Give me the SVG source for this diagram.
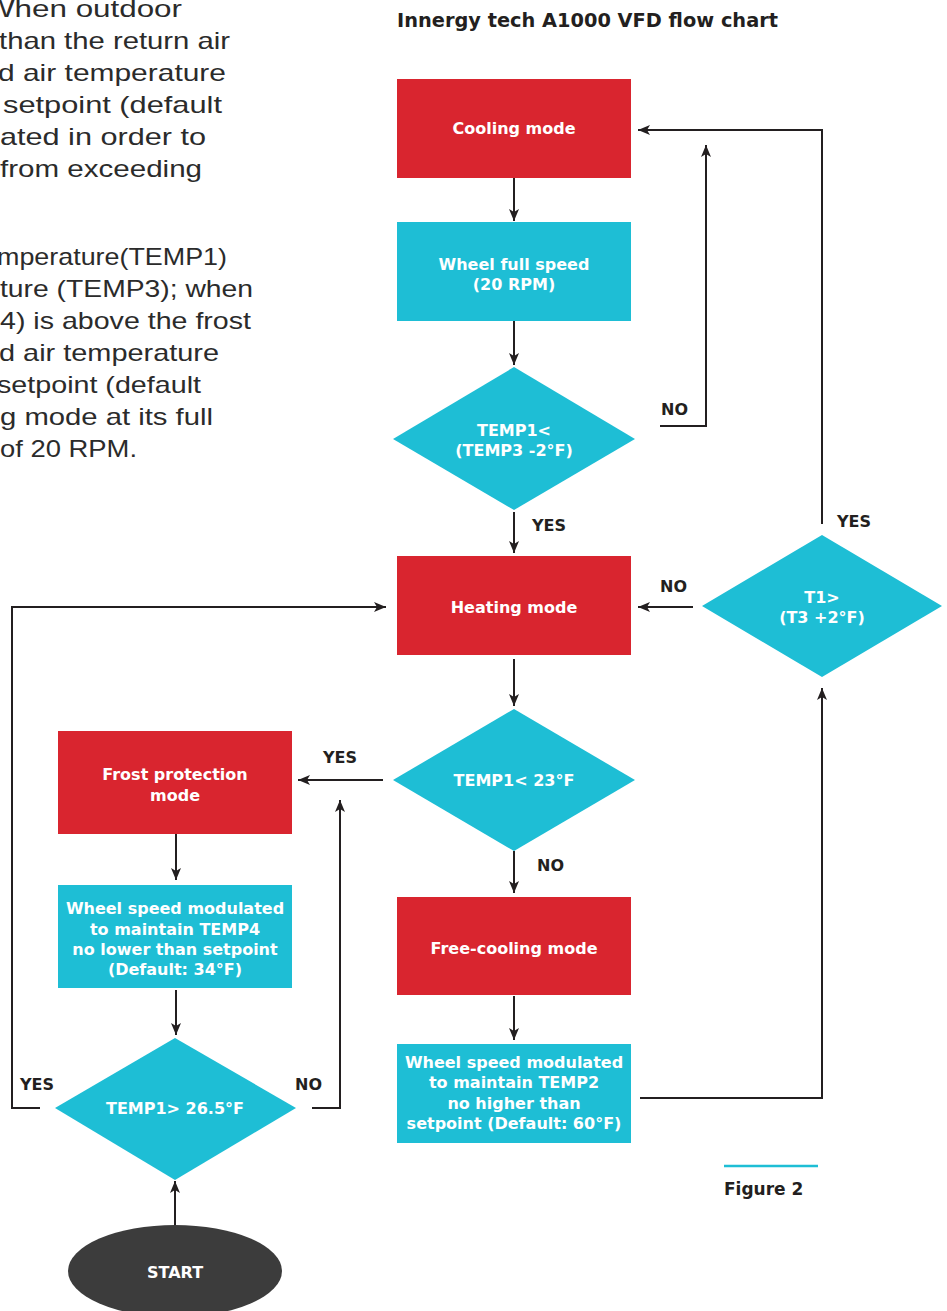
<svg xmlns="http://www.w3.org/2000/svg" width="947" height="1311" viewBox="0 0 947 1311">
<style>
.body{font-family:"Liberation Sans",Arial,sans-serif;font-size:24px;fill:#2b2b2b}
.lbl{font-family:"DejaVu Sans",Verdana,sans-serif;font-size:16px;font-weight:bold;fill:#ffffff;text-anchor:middle}
.yn{font-family:"DejaVu Sans",Verdana,sans-serif;font-size:16px;font-weight:bold;fill:#231f20}
.red{fill:#d9252f}
.cyan{fill:#1ebed5}
.conn path{fill:none;stroke:#231f20;stroke-width:2}
</style>
<defs>
<marker id="ah" viewBox="0 0 12 10" refX="12" refY="5" markerWidth="12" markerHeight="10" orient="auto" markerUnits="userSpaceOnUse">
<path d="M0,0 L12,5 L0,10 L3,5 z" fill="#231f20"/>
</marker>
</defs>
<rect width="947" height="1311" fill="#ffffff"/>
<g id="bodytext">
<text class="body" x="-15" y="17" textLength="197" lengthAdjust="spacingAndGlyphs">When outdoor</text>
<text class="body" x="-1" y="49" textLength="231" lengthAdjust="spacingAndGlyphs">than the return air</text>
<text class="body" x="-2" y="81" textLength="228" lengthAdjust="spacingAndGlyphs">d air temperature</text>
<text class="body" x="3" y="113" textLength="219" lengthAdjust="spacingAndGlyphs">setpoint (default</text>
<text class="body" x="0" y="145" textLength="206" lengthAdjust="spacingAndGlyphs">ated in order to</text>
<text class="body" x="0" y="177" textLength="202" lengthAdjust="spacingAndGlyphs">from exceeding</text>
<text class="body" x="-3" y="265" textLength="230" lengthAdjust="spacingAndGlyphs">mperature(TEMP1)</text>
<text class="body" x="0" y="297" textLength="253" lengthAdjust="spacingAndGlyphs">ture (TEMP3); when</text>
<text class="body" x="0" y="329" textLength="251" lengthAdjust="spacingAndGlyphs">4) is above the frost</text>
<text class="body" x="-1" y="361" textLength="220" lengthAdjust="spacingAndGlyphs">d air temperature</text>
<text class="body" x="-3" y="393" textLength="204" lengthAdjust="spacingAndGlyphs">setpoint (default</text>
<text class="body" x="0" y="425" textLength="213" lengthAdjust="spacingAndGlyphs">g mode at its full</text>
<text class="body" x="0" y="457" textLength="137" lengthAdjust="spacingAndGlyphs">of 20 RPM.</text>
</g>
<text id="title" x="397" y="27" font-family="DejaVu Sans, Verdana, sans-serif" font-size="19" font-weight="bold" fill="#231f20" textLength="381" lengthAdjust="spacingAndGlyphs">Innergy tech A1000 VFD flow chart</text>
<g class="conn" id="connectors">
<path d="M514,178 V221" marker-end="url(#ah)"/>
<path d="M514,321 V365" marker-end="url(#ah)"/>
<path d="M660,426 H706 V145" marker-end="url(#ah)"/>
<path d="M514,512 V553" marker-end="url(#ah)"/>
<path d="M822,524 V130 H638" marker-end="url(#ah)"/>
<path d="M693,607 H638" marker-end="url(#ah)"/>
<path d="M514,659 V706" marker-end="url(#ah)"/>
<path d="M383,780 H298" marker-end="url(#ah)"/>
<path d="M514,851 V893" marker-end="url(#ah)"/>
<path d="M514,996 V1040" marker-end="url(#ah)"/>
<path d="M640,1098 H822 V688" marker-end="url(#ah)"/>
<path d="M176,834 V880" marker-end="url(#ah)"/>
<path d="M176,990 V1035" marker-end="url(#ah)"/>
<path d="M40,1108 H12 V607 H386" marker-end="url(#ah)"/>
<path d="M312,1108 H340 V800" marker-end="url(#ah)"/>
<path d="M175,1225 V1181" marker-end="url(#ah)"/>
</g>
<g id="edge-labels">
<text class="yn" x="661" y="415">NO</text>
<text class="yn" x="532" y="531">YES</text>
<text class="yn" x="837" y="527">YES</text>
<text class="yn" x="660" y="592">NO</text>
<text class="yn" x="323" y="763">YES</text>
<text class="yn" x="537" y="871">NO</text>
<text class="yn" x="20" y="1090">YES</text>
<text class="yn" x="295" y="1090">NO</text>
</g>
<g id="cooling-mode">
<rect class="red" x="397" y="79" width="234" height="99"/>
<text class="lbl" x="514" y="134">Cooling mode</text>
</g>
<g id="wheel-full-speed">
<rect class="cyan" x="397" y="222" width="234" height="99"/>
<text class="lbl" x="514" y="270">Wheel full speed</text>
<text class="lbl" x="514" y="290">(20 RPM)</text>
</g>
<g id="decision-temp3">
<polygon class="cyan" points="514,367 635,439 514,510 393,439"/>
<text class="lbl" x="514" y="436">TEMP1&lt;</text>
<text class="lbl" x="514" y="456">(TEMP3 -2°F)</text>
</g>
<g id="decision-t3">
<polygon class="cyan" points="822,535 942,606 822,677 702,606"/>
<text class="lbl" x="822" y="603">T1&gt;</text>
<text class="lbl" x="822" y="623">(T3 +2°F)</text>
</g>
<g id="heating-mode">
<rect class="red" x="397" y="556" width="234" height="99"/>
<text class="lbl" x="514" y="613">Heating mode</text>
</g>
<g id="decision-23">
<polygon class="cyan" points="514,709 635,780 514,851 393,780"/>
<text class="lbl" x="514" y="786">TEMP1&lt; 23°F</text>
</g>
<g id="free-cooling-mode">
<rect class="red" x="397" y="897" width="234" height="98"/>
<text class="lbl" x="514" y="954">Free-cooling mode</text>
</g>
<g id="wheel-temp2">
<rect class="cyan" x="397" y="1044" width="234" height="99"/>
<text class="lbl" x="514" y="1068">Wheel speed modulated</text>
<text class="lbl" x="514" y="1088">to maintain TEMP2</text>
<text class="lbl" x="514" y="1109">no higher than</text>
<text class="lbl" x="514" y="1129">setpoint (Default: 60°F)</text>
</g>
<g id="frost-protection-mode">
<rect class="red" x="58" y="731" width="234" height="103"/>
<text class="lbl" x="175" y="780">Frost protection</text>
<text class="lbl" x="175" y="801">mode</text>
</g>
<g id="wheel-temp4">
<rect class="cyan" x="58" y="885" width="234" height="103"/>
<text class="lbl" x="175" y="914">Wheel speed modulated</text>
<text class="lbl" x="175" y="935">to maintain TEMP4</text>
<text class="lbl" x="175" y="955">no lower than setpoint</text>
<text class="lbl" x="175" y="975">(Default: 34°F)</text>
</g>
<g id="decision-26">
<polygon class="cyan" points="175,1038 296,1108 175,1180 55,1108"/>
<text class="lbl" x="175" y="1114">TEMP1&gt; 26.5°F</text>
</g>
<g id="start">
<ellipse cx="175" cy="1271" rx="107" ry="46" fill="#3c3c3c"/>
<text class="lbl" x="175" y="1278">START</text>
</g>
<g id="figure-caption">
<line x1="724" y1="1166" x2="818" y2="1166" stroke="#1ebed5" stroke-width="2.5"/>
<text x="724" y="1195" font-family="DejaVu Sans, Verdana, sans-serif" font-size="17" font-weight="bold" fill="#231f20">Figure 2</text>
</g>
</svg>
